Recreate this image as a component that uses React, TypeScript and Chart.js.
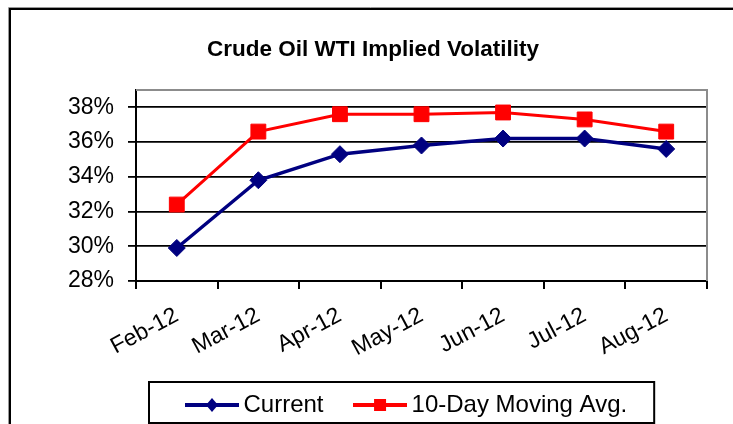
import React, { useEffect, useRef } from 'react';
import { Chart, registerables } from 'chart.js';

Chart.register(...registerables);

const titleText = 'Crude Oil WTI Implied Volatility';
const categories = ['Feb-12', 'Mar-12', 'Apr-12', 'May-12', 'Jun-12', 'Jul-12', 'Aug-12'];
const seriesNames = ['Current', '10-Day Moving Avg.'];
const currentValues = [0.299, 0.338, 0.353, 0.358, 0.362, 0.362, 0.356];
const movingAvgValues = [0.324, 0.366, 0.376, 0.376, 0.377, 0.373, 0.366];
const yTickValues = [0.28, 0.3, 0.32, 0.34, 0.36, 0.38];
const yMin = 0.28;
const yMax = 0.39;

const FONT = "'Liberation Sans', Arial, Helvetica, sans-serif";
const BLUE = '#000080';
const RED = '#ff0000';

const LEGEND_FIRST_X = 192.5;
const LEGEND_TOP = 356;

function makeLegendIcon(color: string, shape: 'diamond' | 'square') {
  const c = document.createElement('canvas');
  c.width = 54;
  c.height = 20;
  const g = c.getContext('2d')!;
  g.strokeStyle = color;
  g.lineWidth = 4;
  g.beginPath();
  g.moveTo(0, 10);
  g.lineTo(54, 10);
  g.stroke();
  g.fillStyle = color;
  if (shape === 'diamond') {
    g.beginPath();
    g.moveTo(21, 10);
    g.lineTo(27, 3);
    g.lineTo(33, 10);
    g.lineTo(27, 17);
    g.closePath();
    g.fill();
  } else {
    g.fillRect(21, 4, 12, 12);
  }
  return c;
}

export default function App() {
  const ref = useRef<HTMLCanvasElement | null>(null);

  useEffect(() => {
    document.body.style.margin = '0';
    const canvas = ref.current!;
    const icons = [makeLegendIcon(BLUE, 'diamond'), makeLegendIcon(RED, 'square')];

    const chromePlugin = {
      id: 'chrome',
      afterLayout(chart: any) {
        const lg = chart.legend;
        if (!lg || !lg.lineWidths) return;
        const pad = lg.options.labels.padding;
        const lw = lg.lineWidths[0];
        const curX = (lg.left + pad + lg.right - lw) / 2;
        const dx = LEGEND_FIRST_X - curX;
        lg.left += dx;
        lg.right += dx;
        lg.top = LEGEND_TOP;
        lg.bottom = 424;
        lg.height = lg.bottom - lg.top;
      },
      beforeDatasetsDraw(chart: any) {
        const { ctx, chartArea } = chart;
        ctx.save();
        ctx.strokeStyle = '#8c8c8c';
        ctx.lineWidth = 2;
        ctx.beginPath();
        ctx.moveTo(chartArea.left, chartArea.top);
        ctx.lineTo(chartArea.right, chartArea.top);
        ctx.lineTo(chartArea.right, chartArea.bottom);
        ctx.stroke();
        ctx.restore();
      },
      afterDraw(chart: any) {
        const { ctx } = chart;
        ctx.save();
        ctx.strokeStyle = '#000';
        ctx.lineWidth = 2;
        ctx.beginPath();
        ctx.moveTo(10, 424);
        ctx.lineTo(10, 9);
        ctx.lineTo(733, 9);
        ctx.stroke();
        ctx.strokeStyle = '#999';
        ctx.lineWidth = 1;
        ctx.beginPath();
        ctx.moveTo(8.5, 424);
        ctx.lineTo(8.5, 7.5);
        ctx.lineTo(733, 7.5);
        ctx.stroke();
        const lg = chart.legend;
        if (lg && lg.lineWidths) {
          const left = LEGEND_FIRST_X - 43.5;
          const right = LEGEND_FIRST_X + lg.lineWidths[0] - 10;
          ctx.strokeStyle = '#000';
          ctx.lineWidth = 2;
          ctx.strokeRect(left, 382, right - left, 41);
        }
        ctx.restore();
      },
    };

    const chart = new Chart(canvas, {
      type: 'line',
      data: {
        labels: categories,
        datasets: [
          {
            label: seriesNames[0],
            data: currentValues,
            borderColor: BLUE,
            backgroundColor: BLUE,
            borderWidth: 3.5,
            pointStyle: 'rectRot',
            pointRadius: 8.5,
            pointBorderWidth: 1,
            pointBackgroundColor: BLUE,
            pointBorderColor: BLUE,
            tension: 0,
          },
          {
            label: seriesNames[1],
            data: movingAvgValues,
            borderColor: RED,
            backgroundColor: RED,
            borderWidth: 3,
            pointStyle: 'rect',
            pointRadius: 10.5,
            pointBorderWidth: 1,
            pointBackgroundColor: RED,
            pointBorderColor: RED,
            tension: 0,
          },
        ],
      },
      options: {
        responsive: false,
        animation: false,
        events: [],
        layout: { padding: { left: 39, right: 26, top: 0, bottom: 0 } },
        scales: {
          x: {
            type: 'category',
            offset: true,
            grid: {
              display: true,
              drawOnChartArea: false,
              drawTicks: true,
              tickLength: 8,
              color: '#000',
              lineWidth: 2,
              offset: true,
            },
            border: { display: true, color: '#000', width: 2 },
            ticks: {
              color: '#000',
              font: { family: FONT, size: 23 },
              minRotation: 28,
              maxRotation: 28,
              autoSkip: false,
              padding: 13,
            },
            afterFit: (s: any) => {
              s.height = 142;
            },
          },
          y: {
            type: 'linear',
            min: yMin,
            max: yMax,
            afterBuildTicks: (s: any) => {
              s.ticks = yTickValues.map((v) => ({ value: v }));
            },
            grid: {
              color: '#000',
              lineWidth: 1.8,
              tickLength: 8,
              drawTicks: true,
            },
            border: { display: true, color: '#000', width: 2 },
            ticks: {
              color: '#000',
              font: { family: FONT, size: 23 },
              padding: 14,
              callback: (v: any) => Math.round(Number(v) * 100) + '%',
            },
            afterFit: (s: any) => {
              s.width = 97;
            },
          },
        },
        plugins: {
          title: {
            display: true,
            text: titleText,
            color: '#000',
            font: { family: FONT, size: 22.5, weight: 'bold' },
            padding: { top: 36.7, bottom: 26.2 },
          },
          legend: {
            display: true,
            position: 'bottom',
            maxHeight: 1,
            labels: {
              usePointStyle: true,
              pointStyleWidth: 39,
              padding: 37,
              color: '#000',
              font: { family: FONT, size: 24 },
              generateLabels: (ch: any) => {
                const items = (Chart.defaults.plugins.legend.labels as any).generateLabels(ch);
                items.forEach((it: any, i: number) => {
                  it.pointStyle = icons[i];
                });
                return items;
              },
            },
          },
          tooltip: { enabled: false },
        },
      } as any,
      plugins: [chromePlugin],
    });

    return () => chart.destroy();
  }, []);

  return (
    <div style={{ position: 'absolute', left: 0, top: 0, width: 733, height: 424, background: '#fff' }}>
      <canvas ref={ref} width={733} height={424} style={{ display: 'block' }} />
    </div>
  );
}
